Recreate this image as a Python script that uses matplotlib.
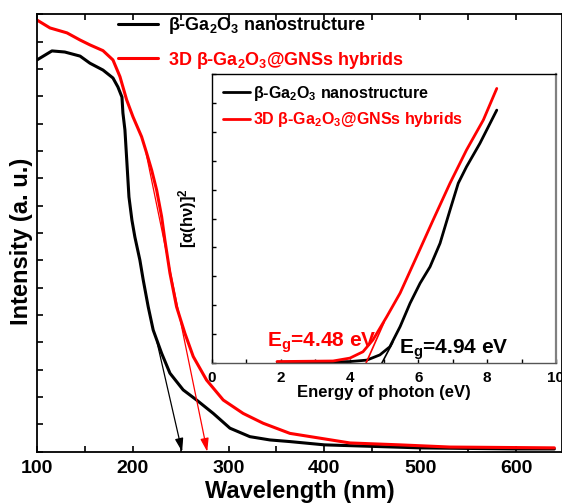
import matplotlib
matplotlib.use("Agg")
import matplotlib.pyplot as plt
import numpy as np

plt.rcParams['font.family'] = ['Liberation Sans', 'DejaVu Sans']
plt.rcParams['font.weight'] = 'bold'
plt.rcParams['mathtext.fontset'] = 'custom'
plt.rcParams['mathtext.rm'] = 'Liberation Sans:bold'
plt.rcParams['mathtext.it'] = 'Liberation Sans:bold'
plt.rcParams['mathtext.bf'] = 'Liberation Sans:bold'

# ---- main UV-vis data ----
wl_black = [100, 115.6, 129, 145, 155.3, 168.9, 179.3, 184.5, 188.7, 189.7, 191.8, 193.9, 196,
            199.1, 202.2, 207.4, 210.9, 216.1, 221.3, 230.1, 238.8, 252.6, 266.6, 284,
            301.4, 322.2, 343.1, 364, 400, 500, 600, 640]
int_black = [1.433, 1.466, 1.462, 1.447, 1.421, 1.396, 1.367, 1.334, 1.297, 1.239, 1.177,
             1.055, 0.932, 0.847, 0.785, 0.701, 0.628, 0.530, 0.445, 0.360, 0.287,
             0.226, 0.189, 0.140, 0.086, 0.055, 0.043, 0.037, 0.025, 0.014, 0.01, 0.01]
wl_red = [100, 113.6, 131.3, 144.9, 155.3, 168.9, 179.3, 186.6, 193.6, 200.2, 209.2, 214.4,
          219.7, 224.9, 230.1, 233.5, 238.8, 245.7, 254.4, 263.1, 277, 294.4, 315.2, 336.1,
          364, 426.6, 478.7, 531, 640]
int_red = [1.579, 1.55, 1.532, 1.506, 1.488, 1.467, 1.433, 1.372, 1.287, 1.225, 1.152, 1.093,
           1.030, 0.957, 0.860, 0.774, 0.653, 0.530, 0.433, 0.348, 0.262, 0.189, 0.140, 0.104,
           0.067, 0.032, 0.025, 0.017, 0.014]

# tangent arrows (start wavelength, start intensity, end wavelength)
tan_black = [224, 0.42, 251.5]
tan_red = [214, 1.09, 277.7]

# ---- inset Tauc data ----
E_black = [1.9, 3.0, 4.01, 4.5, 4.88, 5.17, 5.47, 5.76, 6.05, 6.34, 6.63, 6.92, 7.16, 7.4, 7.79, 8.28]
A_black = [0.03, 0.03, 0.05, 0.1, 0.28, 0.56, 1.26, 2.07, 2.76, 3.33, 4.14, 5.29, 6.22, 6.79, 7.6, 8.75]
E_red = [1.89, 3.52, 4.01, 4.39, 4.68, 5.08, 5.47, 5.95, 6.43, 6.92, 7.4, 7.89, 8.28]
A_red = [0.05, 0.07, 0.17, 0.39, 0.8, 1.6, 2.42, 3.68, 4.95, 6.22, 7.37, 8.41, 9.5]
Eg_black = 4.94
Eg_red = 4.48

lab_black = r'β-Ga$_2$O$_3$ nanostructure'
lab_red = r'3D β-Ga$_2$O$_3$@GNSs hybrids'

fig = plt.figure(figsize=(5.62, 5.03), dpi=100)
ax = fig.add_axes([0.0658, 0.102, 1.0 - 0.0658, 0.8696])
ax.plot(wl_black, int_black, color='black', lw=2.2, label=lab_black,
        solid_joinstyle='round', solid_capstyle='round')
ax.plot(wl_red, int_red, color='#ff0000', lw=2.2, label=lab_red,
        solid_joinstyle='round', solid_capstyle='round')

for t, c in [(tan_black, 'black'), (tan_red, '#ff0000')]:
    ax.annotate('', xy=(t[2], 0.0), xytext=(t[0], t[1]),
                arrowprops=dict(arrowstyle='-|>,head_length=0.8,head_width=0.25',
                                color=c, lw=0.9, shrinkA=0, shrinkB=0))

ax.set_xlim(100, 648)
ax.set_ylim(0, 1.6)
ax.set_xticks([100, 200, 300, 400, 500, 600])
ax.set_xticks(np.arange(150, 650, 100), minor=True)
ax.set_yticks(np.arange(0, 1.61, 0.1))
ax.set_yticklabels([])
ax.tick_params(axis='both', which='both', direction='in', length=4, width=1.2,
               top=True, right=False, labelsize=14)
ax.tick_params(axis='x', pad=6)
for lbl in ax.get_xticklabels():
    lbl.set_fontweight('bold')
for s in ax.spines.values():
    s.set_linewidth(1.3)
ax.set_xlabel('Wavelength (nm)', fontsize=17, fontweight='bold', labelpad=2)
ax.set_ylabel('Intensity (a. u.)', fontsize=17, fontweight='bold')
ax.yaxis.set_label_coords(-0.008, 0.48)
leg = ax.legend(loc='upper left', bbox_to_anchor=(0.124, 1.035), frameon=False,
                fontsize=13, handlelength=2.2, handletextpad=0.55, labelspacing=0.75)
for txt, c in zip(leg.get_texts(), ['black', '#ff0000']):
    txt.set_color(c)
    txt.set_fontweight('bold')

# ---- inset ----
ins = fig.add_axes([0.3772, 0.2783, 0.612, 0.5746])
ins.plot(E_black, A_black, color='black', lw=2.0, label=lab_black,
         solid_joinstyle='round', solid_capstyle='round')
ins.plot(E_red, A_red, color='#ff0000', lw=2.0, label=lab_red,
         solid_joinstyle='round', solid_capstyle='round')
ins.plot([Eg_black, 5.25], [0.0, 0.7], color='black', lw=1.2)
ins.plot([Eg_red, 5.0], [0.0, 1.4], color='#ff0000', lw=1.2)
ins.set_xlim(0, 10)
ins.set_ylim(0, 10)
ins.set_xticks([0, 2, 4, 6, 8, 10])
ins.set_xticks([1, 3, 5, 7, 9], minor=True)
ins.set_yticks(np.arange(0, 10.1, 1))
ins.set_yticklabels([])
ins.tick_params(axis='both', which='both', direction='in', length=3, width=1,
                labelsize=11, pad=6)
for lbl in ins.get_xticklabels():
    lbl.set_fontweight('bold')
for side, s in ins.spines.items():
    s.set_linewidth(1.0)
ins.spines['right'].set_color('#808080')
ins.spines['right'].set_linewidth(1.6)
ins.spines['bottom'].set_color('#555555')
ins.set_xlabel('Energy of photon (eV)', fontsize=12, fontweight='bold', labelpad=0)
ins.set_ylabel(r'[α(hν)]$^2$', fontsize=12, fontweight='bold', labelpad=3)
leg2 = ins.legend(loc='upper left', bbox_to_anchor=(-0.01, 1.015), frameon=False,
                  fontsize=11.5, handlelength=1.7, handletextpad=0.2, labelspacing=0.45)
for txt, c in zip(leg2.get_texts(), ['black', '#ff0000']):
    txt.set_color(c)
    txt.set_fontweight('bold')
ins.text(1.6, 0.55, r'E$_g$=4.48 eV', color='#ff0000', fontsize=15, fontweight='bold')
ins.text(5.45, 0.33, r'E$_g$=4.94 eV', color='black', fontsize=15, fontweight='bold')

fig.savefig('out.png', dpi=100)
